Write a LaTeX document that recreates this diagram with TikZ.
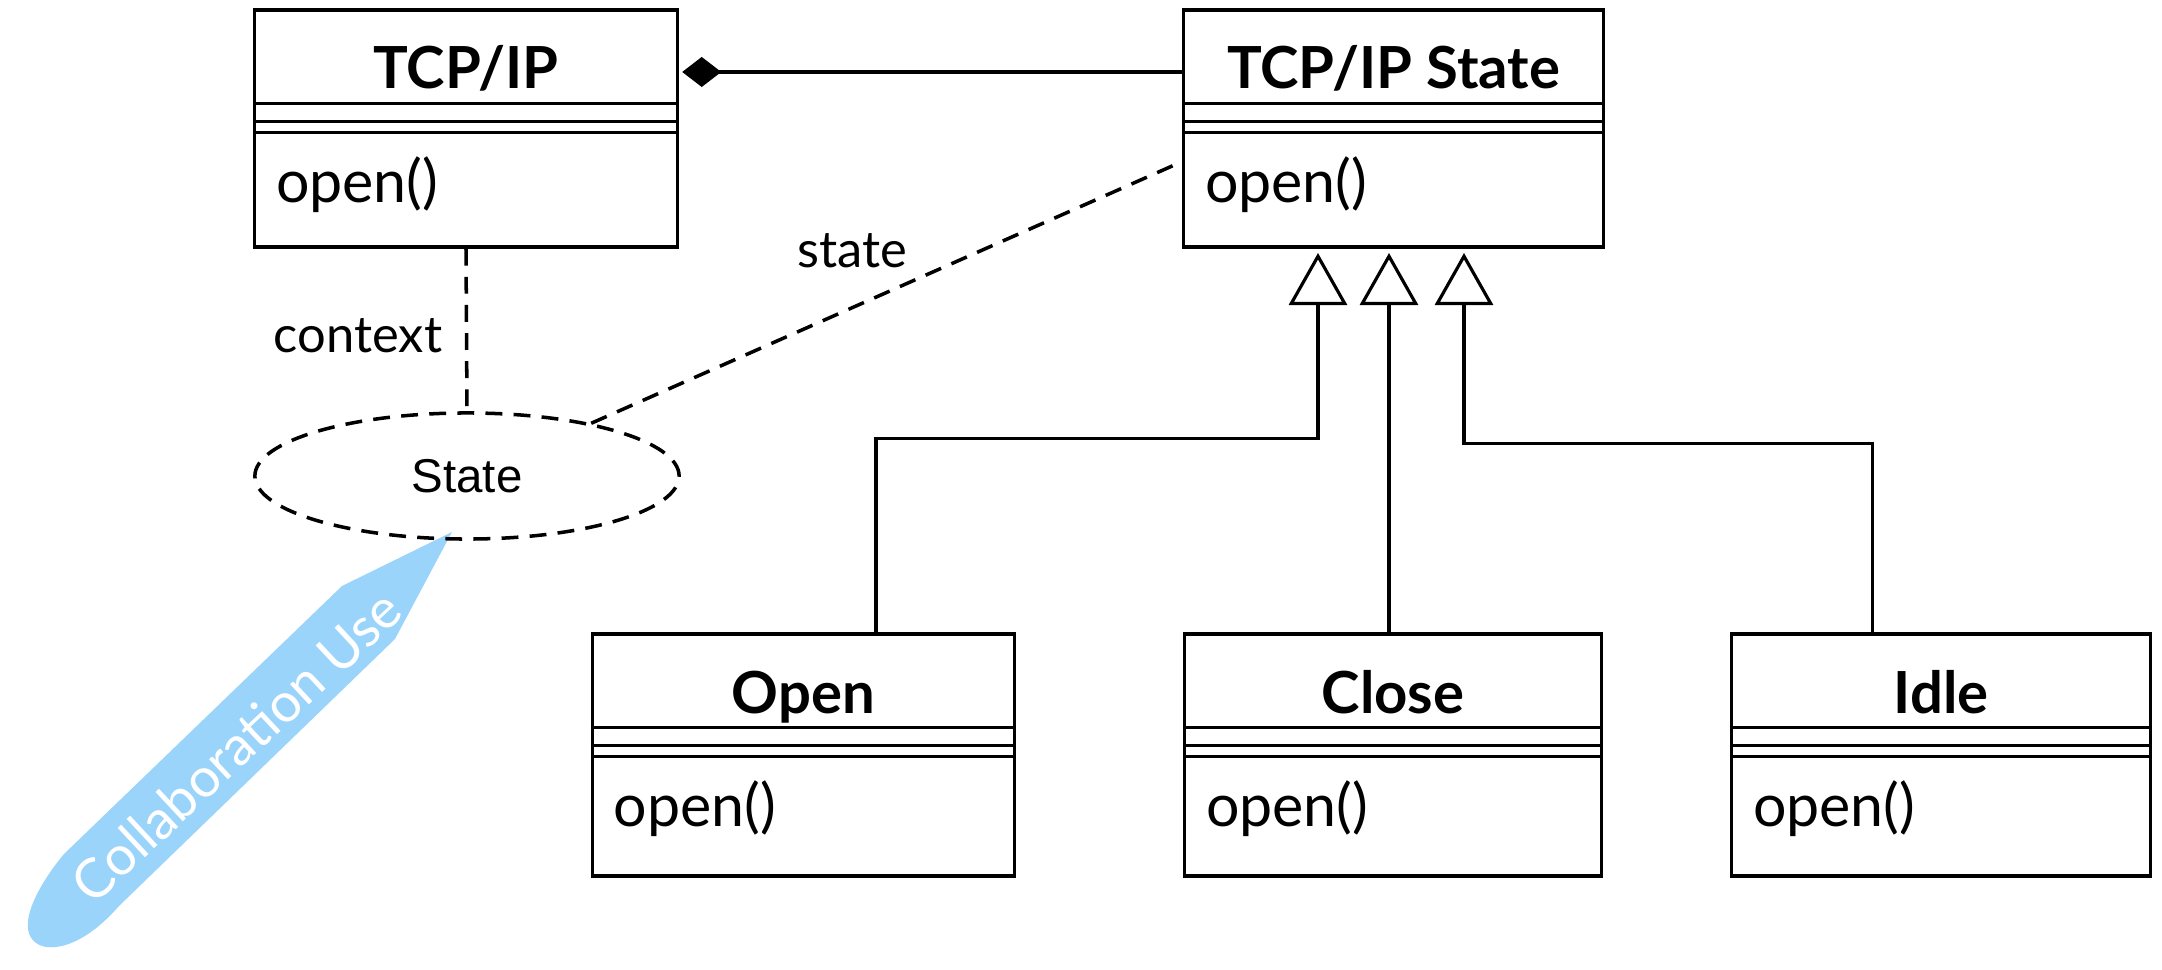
\documentclass[tikz,border=0pt]{standalone}
\usepackage{fontspec}
\setmainfont{Lato}
\newfontfamily\helv{Liberation Sans}
\usepackage{tikz}
\usetikzlibrary{arrows.meta,calc,shapes.geometric,positioning}

\definecolor{calloutblue}{RGB}{155,212,250}

\tikzset{
	classbox/.style={draw, line width=0.9pt, inner sep=0pt, minimum height=2.37cm},
	classname/.style={anchor=base, font=\fontsize{16.5}{18}\selectfont\bfseries},
	classop/.style={anchor=base west, inner sep=0pt, font=\fontsize{16.8}{18}\selectfont},
	rolename/.style={anchor=base, inner sep=0pt, font=\fontsize{14.4}{16}\selectfont},
	dashline/.style={line width=1pt, dash pattern=on 4.8pt off 3.2pt},
	inherit/.style={line width=0.9pt, -{Triangle[open, length=0.52cm, width=0.58cm]}},
	compose/.style={line width=0.9pt, -{Diamond[length=0.39cm, width=0.30cm]}},
}

\begin{document}
\begin{tikzpicture}[x=0.01cm, y=-0.01cm]
		\useasboundingbox (0,0) rectangle (2162,970);
		
		% callout
		\fill[calloutblue] (452,532) -- (342,586) -- (64,854)
			.. controls (30,895) and (12,940) .. (46,947)
			.. controls (72,950) and (100,928) .. (119,906) -- (395,639) -- cycle;
		\node[rotate=43, text=white, font=\fontsize{15.5}{17}\selectfont] (calltext) at (236,746) {Collaboration Use};
		
		% classes
		\node[classbox, minimum width=4.22cm] (tcp) at (466,128.5) {};
		\node[classbox, minimum width=4.19cm] (tcpstate) at (1393.5,128.5) {};
		\node[classbox, minimum width=4.22cm, minimum height=2.42cm] (open) at (803.5,755) {};
		\node[classbox, minimum width=4.16cm, minimum height=2.42cm] (close) at (1393,755) {};
		\node[classbox, minimum width=4.18cm, minimum height=2.42cm] (idle) at (1941,755) {};
		
		\node[classname] (tcpname) at ($(tcp.north)+(0,80)$) {TCP/IP};
		\node[classname] (tcpstatename) at ($(tcpstate.north)+(0,80)$) {TCP/IP State};
		\node[classname] (openname) at ($(open.north)+(0,81)$) {Open};
		\node[classname] (closename) at ($(close.north)+(0,81)$) {Close};
		\node[classname] (idlename) at ($(idle.north)+(0,81)$) {Idle};
		
		\foreach \c in {tcp,tcpstate,open,close,idle} {
			\foreach \d in {95,113,124}
				\draw[line width=0.9pt] ($(\c.north west)+(0,\d)$) -- ($(\c.north east)+(0,\d)$);
			\node[classop] (\c op) at ($(\c.north west)+(22,194)$) {open()};
		}
		
		% collaboration
		\node[ellipse, draw, dashline, minimum width=4.24cm, minimum height=1.26cm,
			font=\helv\fontsize{13.5}{15}\selectfont] (coll) at (467,476) {State};
		\draw[dashline] (tcp.south) -- (coll.north);
		\draw[dashline] (coll.23) -- ([yshift=-0.33cm]tcpstate.west);
		\node[rolename] (ctxlabel) at (358,353) {context};
		\node[rolename] (statelabel) at (852,268) {state};
		
		% composition
		\draw[compose] ([yshift=0.565cm]tcpstate.west) -- ([yshift=0.565cm,xshift=1pt]tcp.east);
		
		% generalizations
		\coordinate (genOpen) at (1318,253);
		\coordinate (genClose) at (1389,253);
		\coordinate (genIdle) at (1464,253);
		\draw[inherit] ([xshift=7.25mm]open.north) |- ([yshift=-1.85cm]genOpen) -- (genOpen);
		\draw[inherit] (close.north -| genClose) -- (genClose);
		\draw[inherit] ([xshift=-6.85mm]idle.north) |- ([yshift=-1.9cm]genIdle) -- (genIdle);
		\end{tikzpicture}
\end{document}
